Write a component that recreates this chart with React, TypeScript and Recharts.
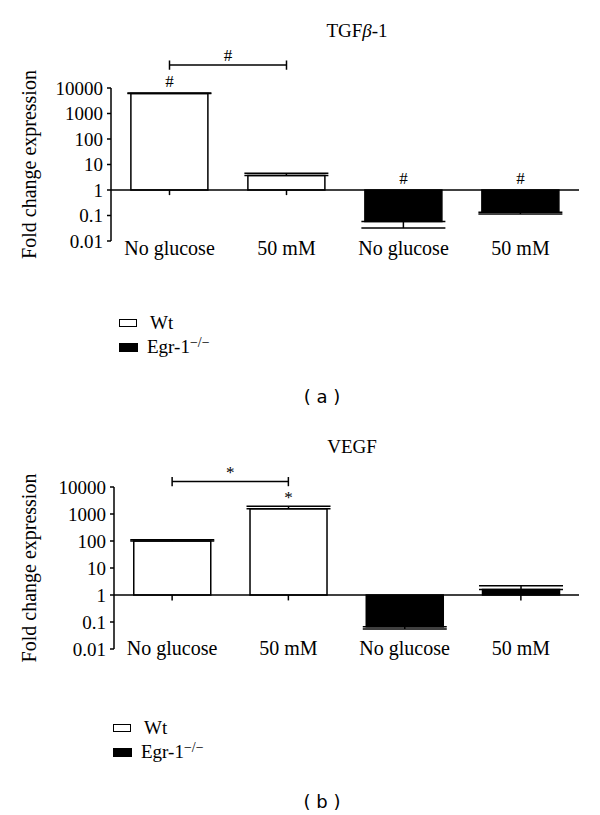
import React from "react";
import {
  ComposedChart,
  Bar,
  XAxis,
  YAxis,
  ErrorBar,
  ReferenceLine,
  LabelList,
  Cell,
} from "recharts";

const groupIds = ["wt-0", "wt-50", "ko-0", "ko-50"];
const groupLabels = ["No glucose", "50 mM", "No glucose", "50 mM"];
const groupFills = ["#ffffff", "#ffffff", "#000000", "#000000"];

const yTicks = [0.01, 0.1, 1, 10, 100, 1000, 10000];
const yTickLabels = ["0.01", "0.1", "1", "10", "100", "1000", "10000"];
const minorSteps = [2, 3, 4, 5, 6, 7, 8, 9];

// TGFβ-1 panel
const tgfValues = [6100, 3.7, 0.058, 0.135];
const tgfErrors = [[0, 300], [0, 0.8], [0.026, 0], [0.02, 0]];
const tgfMarks = ["#", "", "#", "#"];

// VEGF panel
const vegfValues = [100, 1550, 0.067, 1.6];
const vegfErrors = [[0, 12], [0, 400], [0.012, 0], [0, 0.6]];
const vegfMarks = ["", "*", "", ""];

const SERIF = "'Liberation Serif', 'DejaVu Serif', serif";
const SANS = "'DejaVu Sans', 'Liberation Sans', sans-serif";

const minorTicks = yTicks.slice(0, -1).flatMap((d) => minorSteps.map((s) => d * s));

const buildRows = (values: number[], errors: number[][], marks: string[]) =>
  groupIds.map((id, i) => ({
    id,
    range: [1, values[i]],
    err: errors[i],
    mark: marks[i],
  }));

const renderMark = (props: any) => {
  const { x, y, width, height, value } = props;
  if (!value) return null;
  const top = Math.min(y, y + height);
  return (
    <text x={x + width / 2} y={top - 6} textAnchor="middle" fontSize={17} fontFamily={SERIF} fill="#000">
      {value}
    </text>
  );
};

interface PanelProps {
  values: number[];
  errors: number[][];
  marks: string[];
  bracketMark: string;
  bracketLevel: number;
  bracketTickHi: number;
  bracketTickLo: number;
  height: number;
  axisLeft: number;
  labelMargin: number;
}

const Panel = ({
  values,
  errors,
  marks,
  bracketMark,
  bracketLevel,
  bracketTickHi,
  bracketTickLo,
  height,
  axisLeft,
  labelMargin,
}: PanelProps) => {
  const rows = buildRows(values, errors, marks);
  return (
    <ComposedChart
      width={600}
      height={height}
      data={rows}
      margin={{ top: 88, right: 21, left: 0, bottom: 9 }}
      barCategoryGap="17%"
      style={{ fontFamily: SERIF }}
    >
      <XAxis
        dataKey="id"
        height={30}
        axisLine={false}
        tickLine={false}
        tickSize={0}
        tickMargin={labelMargin}
        interval={0}
        tickFormatter={(v: string) => groupLabels[groupIds.indexOf(v)]}
        tick={{ fill: "#000", fontSize: 20, fontFamily: SERIF }}
      />
      <YAxis
        yAxisId="minor"
        scale="log"
        domain={[0.01, 10000]}
        allowDataOverflow
        ticks={minorTicks}
        width={0}
        axisLine={false}
        tick={false}
        tickSize={2}
        tickLine={{ stroke: "#000", strokeWidth: 1 }}
      />
      <YAxis
        scale="log"
        domain={[0.01, 10000]}
        allowDataOverflow
        ticks={yTicks}
        interval={0}
        width={axisLeft}
        tickSize={4}
        tickMargin={4}
        axisLine={{ stroke: "#000", strokeWidth: 1.5 }}
        tickLine={{ stroke: "#000", strokeWidth: 1.5 }}
        tickFormatter={(v: number) => yTickLabels[yTicks.indexOf(v)]}
        tick={{ fill: "#000", fontSize: 19, fontFamily: SERIF }}
        label={{
          value: "Fold change expression",
          angle: -90,
          position: "insideLeft",
          offset: 29,
          style: { textAnchor: "middle", fontSize: 20, fontFamily: SERIF, fill: "#000" },
        }}
      />
      <Bar dataKey="range" isAnimationActive={false} stroke="#000" strokeWidth={1.5}>
        {rows.map((r, i) => (
          <Cell key={r.id} fill={groupFills[i]} />
        ))}
        <ErrorBar dataKey="err" direction="y" width={42} stroke="#000" strokeWidth={1.5} />
        <LabelList dataKey="mark" content={renderMark} />
      </Bar>
      <ReferenceLine y={1} stroke="#000" strokeWidth={1.5} />
      {groupIds.map((id) => (
        <ReferenceLine
          key={id}
          segment={[
            { x: id, y: 1 },
            { x: id, y: 0.63 },
          ]}
          stroke="#000"
          strokeWidth={1.5}
        />
      ))}
      <ReferenceLine
        segment={[
          { x: groupIds[0], y: bracketLevel },
          { x: groupIds[1], y: bracketLevel },
        ]}
        ifOverflow="visible"
        stroke="#000"
        strokeWidth={1.5}
        label={{ value: bracketMark, position: "top", offset: 4, fontSize: 17, fill: "#000", fontFamily: SERIF }}
      />
      {[groupIds[0], groupIds[1]].map((id) => (
        <ReferenceLine
          key={"b" + id}
          segment={[
            { x: id, y: bracketTickHi },
            { x: id, y: bracketTickLo },
          ]}
          ifOverflow="visible"
          stroke="#000"
          strokeWidth={1.5}
        />
      ))}
    </ComposedChart>
  );
};

const LegendBlock = ({ top, left }: { top: number; left: number }) => (
  <div style={{ position: "absolute", top, left, fontFamily: SERIF, fontSize: 19, color: "#000" }}>
    <div style={{ display: "flex", alignItems: "center", height: 24 }}>
      <span style={{ width: 16, height: 6, border: "1.5px solid #000", background: "#fff", display: "inline-block" }} />
      <span style={{ marginLeft: 13 }}>Wt</span>
    </div>
    <div style={{ display: "flex", alignItems: "center", height: 24 }}>
      <span style={{ width: 19, height: 9, background: "#000", display: "inline-block" }} />
      <span style={{ marginLeft: 9 }}>
        Egr-1<sup style={{ fontSize: 14, verticalAlign: "6px", lineHeight: 0 }}>−/−</sup>
      </span>
    </div>
  </div>
);

const Title = ({ text, top, center }: { text: React.ReactNode; top: number; center: number }) => (
  <div
    style={{
      position: "absolute",
      top,
      left: center - 100,
      width: 200,
      textAlign: "center",
      fontFamily: SERIF,
      fontSize: 19,
      color: "#000",
      lineHeight: "20px",
    }}
  >
    {text}
  </div>
);

const Caption = ({ text, top }: { text: string; top: number }) => (
  <div
    style={{
      position: "absolute",
      top,
      left: 222,
      width: 200,
      textAlign: "center",
      fontFamily: SANS,
      fontSize: 18,
      color: "#000",
      lineHeight: "20px",
      whiteSpace: "pre",
    }}
  >
    {text}
  </div>
);

export default function App() {
  return (
    <div style={{ position: "absolute", left: 0, top: 0, width: 600, height: 815, background: "#fff" }}>
      <Title text={<>TGF<i>β</i>-1</>} top={21} center={357} />
      <div style={{ position: "absolute", left: 0, top: 0 }}>
        <Panel
          values={tgfValues}
          errors={tgfErrors}
          marks={tgfMarks}
          bracketMark="#"
          bracketLevel={79400}
          bracketTickHi={120000}
          bracketTickLo={52000}
          height={280}
          axisLeft={111}
          labelMargin={0}
        />
      </div>
      <LegendBlock top={311} left={119} />
      <Caption text="( a )" top={387} />

      <Title text="VEGF" top={437} center={352} />
      <div style={{ position: "absolute", left: 0, top: 399 }}>
        <Panel
          values={vegfValues}
          errors={vegfErrors}
          marks={vegfMarks}
          bracketMark="*"
          bracketLevel={15850}
          bracketTickHi={23400}
          bracketTickLo={10700}
          height={289}
          axisLeft={114}
          labelMargin={-8}
        />
      </div>
      <LegendBlock top={716} left={113} />
      <Caption text="( b )" top={792} />
    </div>
  );
}
